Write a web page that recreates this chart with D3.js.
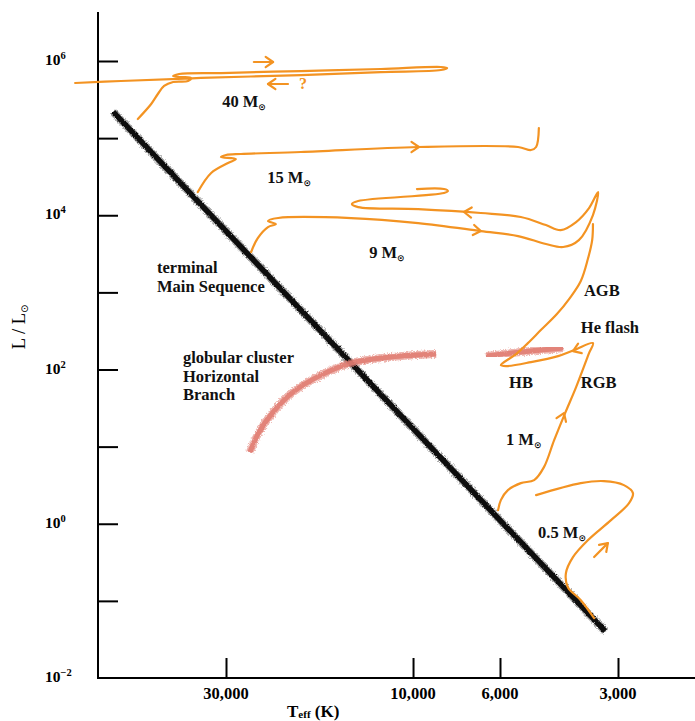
<!DOCTYPE html>
<html>
<head>
<meta charset="utf-8">
<script src="https://cdn.jsdelivr.net/npm/d3@7"></script>
<style>
  body { margin: 0; background: #fff; }
  svg { display: block; }
  text { font-family: "Liberation Serif", "DejaVu Serif", serif; }
</style>
</head>
<body>
<div id="chart"></div>
<script>
// ---- axis ticks -------------------------------------------------------
const yTickValues = [1e-1, 1e0, 1e1, 1e2, 1e3, 1e4, 1e5, 1e6];
const yLabelExponents = [6, 4, 2, 0, -2];
const xTickValues = [30000, 10000, 6000, 3000];
const xTickLabels = ["30,000", "10,000", "6,000", "3,000"];

// ---- evolutionary tracks, points as [log Teff (K), log L/Lsun] --------
const mainSequence = [[4.765, 5.339], [3.510, -1.393]];

const track40 = [
  [4.702, 5.248], [4.668, 5.442], [4.651, 5.572], [4.635, 5.676], [4.612, 5.728],
  [4.574, 5.741], [4.566, 5.780], [4.592, 5.792], [4.612, 5.805], [4.597, 5.831],
  [4.490, 5.844], [4.286, 5.870], [4.082, 5.896], [3.929, 5.922], [3.913, 5.909],
  [3.929, 5.883], [4.082, 5.857], [4.286, 5.818], [4.541, 5.780], [4.745, 5.741],
  [4.862, 5.715]
];

const track15 = [
  [4.549, 4.301], [4.515, 4.547], [4.472, 4.677], [4.452, 4.729], [4.490, 4.755],
  [4.477, 4.781], [4.439, 4.794], [4.286, 4.820], [3.987, 4.885], [3.732, 4.885],
  [3.699, 4.846], [3.686, 4.885], [3.679, 5.131]
];

const track9 = [
  [4.413, 3.523], [4.396, 3.704], [4.370, 3.847], [4.350, 3.886], [4.370, 3.925],
  [4.344, 3.964], [4.158, 3.964], [3.987, 3.899], [3.827, 3.795], [3.732, 3.730],
  [3.661, 3.627], [3.617, 3.588], [3.577, 3.678], [3.541, 4.003], [3.528, 4.301],
  [3.551, 4.093], [3.584, 3.912], [3.623, 3.808], [3.661, 3.873], [3.725, 3.977],
  [3.827, 4.029], [3.987, 4.080], [4.140, 4.106], [4.156, 4.145], [4.140, 4.184],
  [3.921, 4.288], [3.911, 4.314], [3.921, 4.340], [3.990, 4.340]
];

// 1 Msun: red giant branch, helium flash, horizontal branch, AGB
const track1 = [
  [3.783, 0.177], [3.776, 0.306], [3.758, 0.436], [3.725, 0.527], [3.691, 0.566],
  [3.666, 0.734], [3.640, 1.084], [3.612, 1.435], [3.584, 1.772], [3.551, 2.213],
  [3.541, 2.342], [3.589, 2.252], [3.630, 2.174], [3.699, 2.096], [3.763, 2.044],
  [3.776, 2.057], [3.737, 2.200], [3.707, 2.342], [3.674, 2.511], [3.633, 2.719],
  [3.600, 2.926], [3.572, 3.147], [3.554, 3.432], [3.543, 3.678], [3.541, 3.886]
];

const track05 = [
  [3.538, -1.224], [3.572, -0.991], [3.605, -0.822], [3.610, -0.641], [3.592, -0.432],
  [3.554, -0.213], [3.495, 0.047], [3.449, 0.267], [3.439, 0.397], [3.462, 0.501],
  [3.513, 0.553], [3.572, 0.527], [3.686, 0.371]
];

// globular cluster horizontal branch (blue part and red clump part)
const hbBlue = [
  [4.416, 0.929], [4.393, 1.188], [4.357, 1.448], [4.306, 1.707], [4.235, 1.927],
  [4.158, 2.083], [4.056, 2.161], [3.941, 2.200]
];
const hbRed = [[3.814, 2.174], [3.725, 2.226], [3.617, 2.278]];

// direction arrows: tail, tip, whether a shaft is drawn
const arrowTails = [[4.406, 5.987], [4.319, 5.702], [4.018, 4.885], [3.865, 3.821], [3.832, 4.029], [3.630, 1.240], [3.559, 2.303], [3.538, -0.432]];
const arrowTips  = [[4.357, 5.987], [4.370, 5.702], [3.985, 4.885], [3.827, 3.795], [3.870, 4.042], [3.615, 1.435], [3.592, 2.239], [3.503, -0.251]];
const arrowShaft = [true, true, false, false, false, false, false, true];

// annotation texts and anchors [log Teff, log L]
const massLabels = ["40", "15", "9", "1", "0.5"];
const massAnchors = [[4.487, 5.403], [4.372, 4.418], [4.112, 3.445], [3.763, 1.020], [3.681, -0.187]];
const noteLines = [["terminal", "Main Sequence"], ["globular cluster", "Horizontal", "Branch"], ["AGB"], ["He flash"], ["HB"], ["RGB"]];
const noteAnchors = [[4.653, 3.250], [4.587, 2.083], [3.564, 2.952], [3.572, 2.472], [3.755, 1.759], [3.572, 1.759]];
const questionAnchor = [4.291, 5.637];

// ---- drawing ----------------------------------------------------------
const W = 695, H = 721;
const frameLeft = 98, frameRight = 695, frameTop = 12;
const orange = "#f39322";

const x = d3.scaleLog().domain([30000, 3000]).range([226, 618]);
const y = d3.scaleLog().domain([1e6, 1e-2]).range([61, 678]);
const px = d => x(Math.pow(10, d[0]));
const py = d => y(Math.pow(10, d[1]));
const frameBottom = y(1e-2);

const svg = d3.select("#chart").append("svg").attr("width", W).attr("height", H);

const defs = svg.append("defs");
function chalkFilter(id, freq, scale) {
  const f = defs.append("filter").attr("id", id)
    .attr("x", "-10%").attr("y", "-10%").attr("width", "120%").attr("height", "120%");
  f.append("feTurbulence").attr("type", "fractalNoise").attr("baseFrequency", freq)
    .attr("numOctaves", 2).attr("seed", 4).attr("result", "noise");
  f.append("feDisplacementMap").attr("in", "SourceGraphic").attr("in2", "noise")
    .attr("scale", scale).attr("xChannelSelector", "R").attr("yChannelSelector", "G");
}
chalkFilter("chalkWide", 1.3, 5);
chalkFilter("chalkCore", 1.1, 2.5);

// frame
svg.append("line").attr("x1", frameLeft).attr("x2", frameLeft)
  .attr("y1", frameTop).attr("y2", frameBottom)
  .attr("stroke", "#000").attr("stroke-width", 2);
svg.append("line").attr("x1", frameLeft - 1).attr("x2", frameRight)
  .attr("y1", frameBottom).attr("y2", frameBottom)
  .attr("stroke", "#000").attr("stroke-width", 2);

// y ticks pointing inward
const yAxis = d3.axisLeft(y).tickValues(yTickValues).tickSizeInner(-20).tickSizeOuter(0).tickFormat("");
const gy = svg.append("g").attr("transform", `translate(${frameLeft},0)`).call(yAxis);
gy.select(".domain").remove();
gy.selectAll(".tick line").attr("stroke", "#000").attr("stroke-width", 2);

// x ticks pointing inward
const xAxis = d3.axisBottom(x).tickValues(xTickValues).tickSizeInner(-20).tickSizeOuter(0).tickFormat("");
const gx = svg.append("g").attr("transform", `translate(0,${frameBottom})`).call(xAxis);
gx.select(".domain").remove();
gx.selectAll(".tick line").attr("stroke", "#000").attr("stroke-width", 2);

// tick labels
svg.append("g").selectAll("text").data(xTickValues).join("text")
  .attr("x", d => x(d)).attr("y", frameBottom + 21)
  .attr("text-anchor", "middle").attr("font-size", 16.5).attr("font-weight", "bold")
  .text((d, i) => xTickLabels[i]);

const yl = svg.append("g").selectAll("text").data(yLabelExponents).join("text")
  .attr("x", 45).attr("y", d => y(Math.pow(10, d)) + 4)
  .attr("font-size", 15.5).attr("font-weight", "bold");
yl.append("tspan").text("10");
yl.append("tspan").attr("dy", -6).attr("font-size", 10.5)
  .text(d => d < 0 ? "\u2212" + (-d) : String(d));

// axis titles
const xt = svg.append("text").attr("x", 287).attr("y", frameBottom + 39)
  .attr("font-size", 17).attr("font-weight", "bold");
xt.append("tspan").text("T");
xt.append("tspan").attr("font-size", 11).attr("dy", 1).text("eff");
xt.append("tspan").attr("dy", -1).text(" (K)");

const yt = svg.append("text").attr("transform", "translate(25,327) rotate(-90)")
  .attr("text-anchor", "middle").attr("font-size", 18.5);
yt.append("tspan").text("L / L");
yt.append("tspan").attr("font-size", 10).attr("dy", 3).attr("font-family", "DejaVu Sans").text("\u2299");

// main sequence: chalky black stroke
const straight = d3.line().x(px).y(py);
svg.append("path").attr("d", straight(mainSequence))
  .attr("fill", "none").attr("stroke", "#666").attr("stroke-width", 8)
  .attr("stroke-opacity", 0.55).attr("filter", "url(#chalkWide)");
svg.append("path").attr("d", straight(mainSequence))
  .attr("fill", "none").attr("stroke", "#0d0d0d").attr("stroke-width", 5.5)
  .attr("filter", "url(#chalkCore)");

// horizontal branch: chalky salmon strokes
const smooth = d3.line().x(px).y(py).curve(d3.curveCatmullRom.alpha(0.5));
[hbBlue, hbRed].forEach(seg => {
  svg.append("path").attr("d", smooth(seg))
    .attr("fill", "none").attr("stroke", "#e3837a").attr("stroke-width", 8)
    .attr("stroke-opacity", 0.6).attr("filter", "url(#chalkWide)");
  svg.append("path").attr("d", smooth(seg))
    .attr("fill", "none").attr("stroke", "#df7a70").attr("stroke-width", 5)
    .attr("stroke-opacity", 0.85).attr("filter", "url(#chalkCore)");
});

// evolutionary tracks
[track40, track15, track9, track1, track05].forEach(t => {
  svg.append("path").attr("d", smooth(t))
    .attr("fill", "none").attr("stroke", orange).attr("stroke-width", 2.2)
    .attr("stroke-linejoin", "round").attr("stroke-linecap", "round");
});

// arrows
const ga = svg.append("g").attr("stroke", orange).attr("stroke-width", 2.2)
  .attr("fill", "none").attr("stroke-linecap", "round").attr("stroke-linejoin", "round");
arrowTips.forEach((tip, i) => {
  const tx = px(tip), ty = py(tip);
  const sx = px(arrowTails[i]), sy = py(arrowTails[i]);
  const a = Math.atan2(ty - sy, tx - sx);
  const len = 9, spread = 0.6;
  const p1 = [tx - len * Math.cos(a - spread), ty - len * Math.sin(a - spread)];
  const p2 = [tx - len * Math.cos(a + spread), ty - len * Math.sin(a + spread)];
  ga.append("path").attr("d", `M${p1[0]},${p1[1]}L${tx},${ty}L${p2[0]},${p2[1]}`);
  if (arrowShaft[i]) ga.append("path").attr("d", `M${sx},${sy}L${tx},${ty}`);
});

// question mark next to the returning 40 Msun arrow
svg.append("text").attr("x", px(questionAnchor)).attr("y", py(questionAnchor))
  .attr("font-size", 16).attr("font-weight", "bold").attr("fill", orange).text("?");

// mass labels
const ml = svg.append("g").selectAll("text").data(massLabels).join("text")
  .attr("x", (d, i) => px(massAnchors[i])).attr("y", (d, i) => py(massAnchors[i]))
  .attr("font-size", 16.5).attr("font-weight", "bold").attr("fill", "#111");
ml.append("tspan").text(d => d + " M");
ml.append("tspan").attr("font-size", 9).attr("dy", 3).attr("font-family", "DejaVu Sans").text("\u2299");

// descriptive notes
noteLines.forEach((lines, i) => {
  const t = svg.append("text").attr("x", px(noteAnchors[i])).attr("y", py(noteAnchors[i]))
    .attr("font-size", 16.5).attr("font-weight", "bold").attr("fill", "#111");
  lines.forEach((s, j) => {
    t.append("tspan").attr("x", px(noteAnchors[i])).attr("dy", j === 0 ? 0 : 18.5).text(s);
  });
});
</script>
</body>
</html>
